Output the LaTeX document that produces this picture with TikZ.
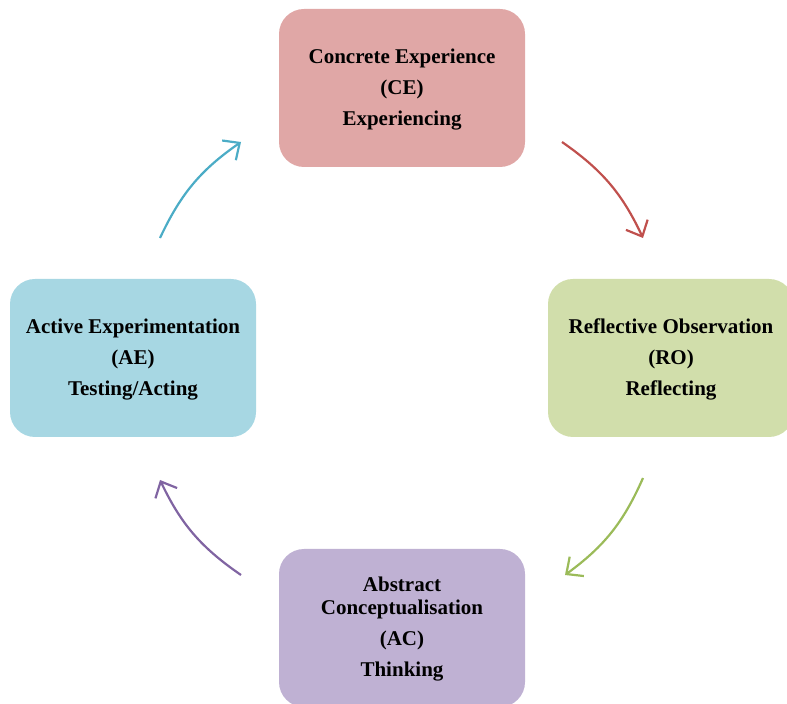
\documentclass[tikz,border=0pt]{standalone}
\usepackage{fontspec}
\setmainfont{Liberation Serif}
\usetikzlibrary{arrows.meta}
\definecolor{ceFill}{RGB}{224,167,166}
\definecolor{roFill}{RGB}{209,222,171}
\definecolor{aeFill}{RGB}{167,215,227}
\definecolor{acFill}{RGB}{191,177,211}
\definecolor{ceLine}{RGB}{192,80,77}
\definecolor{roLine}{RGB}{155,187,89}
\definecolor{aeLine}{RGB}{75,172,198}
\definecolor{acLine}{RGB}{128,100,162}
\newcommand{\stagetext}[1]{\raisebox{-3.5pt}{\begin{tabular}{@{}c@{}}#1\end{tabular}}}
\tikzset{
  stagebox/.style={rectangle, rounded corners=25pt, minimum width=246pt, minimum height=158pt,
    align=center, inner sep=0pt, font=\fontsize{21}{31}\selectfont\bfseries},
  cyclearrow/.style={line width=2.2pt, bend left=15, -{Straight Barb[length=13pt,width=24pt,line width=2.2pt]}}
}
\begin{document}
\begin{tikzpicture}[x=1pt,y=1pt]
\useasboundingbox (0,0) rectangle (787,704);
\clip (0,0) rectangle (787,704);
\node[stagebox, fill=ceFill] (ce) at (402,616) {\stagetext{Concrete Experience\\(CE)\\Experiencing}};
\node[stagebox, fill=roFill] (ro) at (671,346) {\stagetext{Reflective Observation\\(RO)\\Reflecting}};
\node[stagebox, fill=aeFill] (ae) at (133,346) {\stagetext{Active Experimentation\\(AE)\\Testing/Acting}};
\node[stagebox, fill=acFill] (ac) at (402,76) {\stagetext{Abstract\\[-8pt]Conceptualisation\\(AC)\\Thinking}};
\coordinate (r1) at (562,562); \coordinate (r2) at (643,466);
\coordinate (g1) at (643,226); \coordinate (g2) at (565,129);
\coordinate (p1) at (241,129); \coordinate (p2) at (160,224);
\coordinate (b1) at (160,466); \coordinate (b2) at (241,562);
\draw[cyclearrow, ceLine] (r1) to (r2);
\draw[cyclearrow, roLine] (g1) to (g2);
\draw[cyclearrow, acLine] (p1) to (p2);
\draw[cyclearrow, aeLine] (b1) to (b2);
\end{tikzpicture}
\end{document}
